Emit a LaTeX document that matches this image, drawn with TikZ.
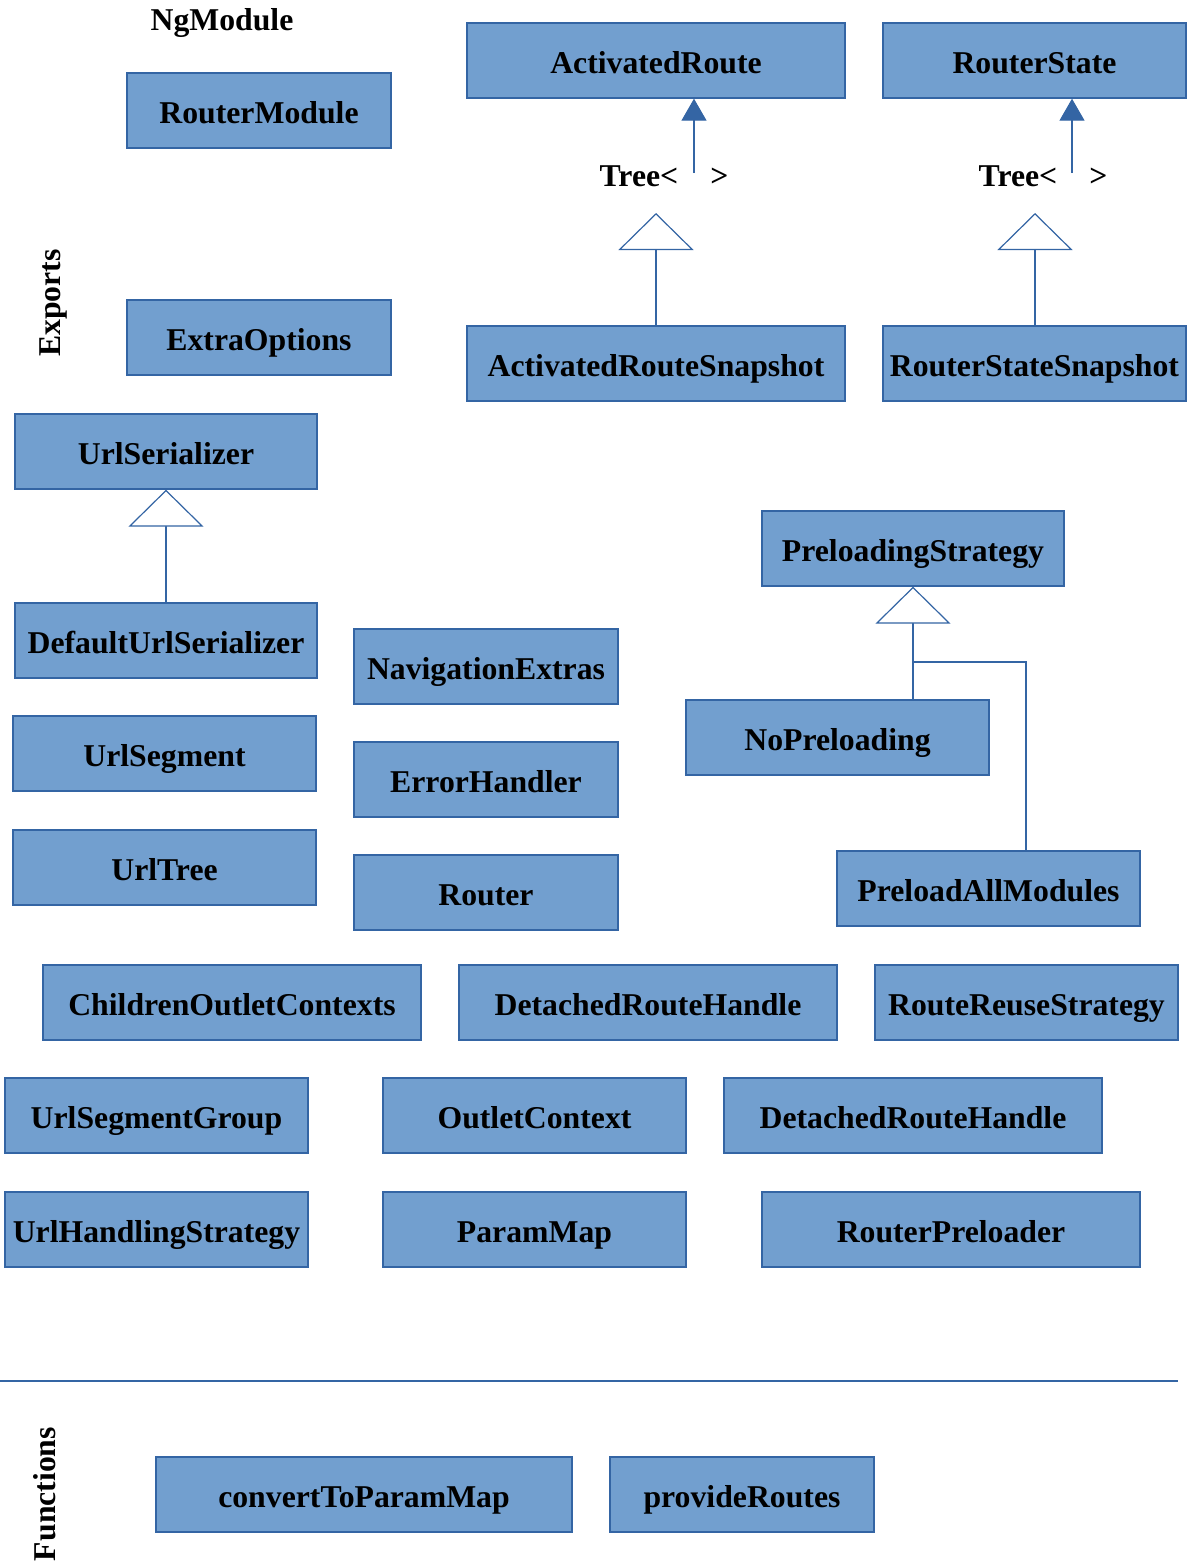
\documentclass[tikz,border=0pt]{standalone}
\usepackage{fontspec}
\setmainfont{Liberation Serif}
\usetikzlibrary{arrows.meta,calc}
\definecolor{boxfill}{HTML}{729FCF}
\definecolor{boxline}{HTML}{3465A4}
\tikzset{
  box/.style={draw=boxline, fill=boxfill, line width=1pt, inner sep=0pt, minimum height=56.25pt,
    text height=22pt, text depth=2.8pt,
    font=\fontsize{23.8}{28}\selectfont\bfseries},
  lbl/.style={inner sep=0pt, font=\fontsize{23.8}{28}\selectfont\bfseries},
  conn/.style={draw=boxline, line width=0.9pt},
  gen/.style={conn, -{Triangle[open, fill=white, length=27.75pt, width=56.25pt]}},
  assoc/.style={conn, -{Triangle[length=16.5pt, width=18.75pt]}, fill=boxline},
}
\newcommand{\bx}[6]{\node[box, minimum width={(#4-#2)*0.75pt}] (#1) at ({(#2+#4)/2},{(#3+#5)/2}) {#6};}
\begin{document}
\begin{tikzpicture}[x=0.75pt, y=-0.75pt]
\useasboundingbox (0,0) rectangle (1192,1564);

\node[lbl] (ngm) at (222,23) {NgModule};
\node[lbl, rotate=90] (exp) at (53,303) {Exports};
\node[lbl, rotate=90] (fun) at (45,1494) {Functions};

\bx{rm}{127}{73}{391}{148}{RouterModule}
\bx{eo}{127}{300}{391}{375}{ExtraOptions}
\bx{ar}{467}{23}{845}{98}{ActivatedRoute}
\bx{rs}{883}{23}{1186}{98}{RouterState}
\bx{ars}{467}{326}{845}{401}{ActivatedRouteSnapshot}
\bx{rss}{883}{326}{1186}{401}{RouterStateSnapshot}

\node[lbl] (tree1) at (664,176) {Tree<\hspace*{24pt}>};
\node[lbl] (tree2) at (1043,176) {Tree<\hspace*{24pt}>};

\bx{us}{15}{414}{317}{489}{UrlSerializer}
\bx{dus}{15}{603}{317}{678}{DefaultUrlSerializer}
\bx{ne}{354}{629}{618}{704}{NavigationExtras}
\bx{useg}{13}{716}{316}{791}{UrlSegment}
\bx{eh}{354}{742}{618}{817}{ErrorHandler}
\bx{ut}{13}{830}{316}{905}{UrlTree}
\bx{rt}{354}{855}{618}{930}{Router}
\bx{ps}{762}{511}{1064}{586}{PreloadingStrategy}
\bx{nop}{686}{700}{989}{775}{NoPreloading}
\bx{pam}{837}{851}{1140}{926}{PreloadAllModules}

\bx{coc}{43}{965}{421}{1040}{ChildrenOutletContexts}
\bx{drh}{459}{965}{837}{1040}{DetachedRouteHandle}
\bx{rrs}{875}{965}{1178}{1040}{RouteReuseStrategy}
\bx{usg}{5}{1078}{308}{1153}{UrlSegmentGroup}
\bx{oc}{383}{1078}{686}{1153}{OutletContext}
\bx{drh2}{724}{1078}{1102}{1153}{DetachedRouteHandle}
\bx{uhs}{5}{1192}{308}{1267}{UrlHandlingStrategy}
\bx{pm}{383}{1192}{686}{1267}{ParamMap}
\bx{rp}{762}{1192}{1140}{1267}{RouterPreloader}

\bx{ctpm}{156}{1457}{572}{1532}{convertToParamMap}
\bx{pr}{610}{1457}{874}{1532}{provideRoutes}

% separator
\coordinate (sepL) at (0,1381);
\coordinate (sepR) at (1178,1381);
\draw[conn] (sepL) -- (sepR);

% Tree connectors
\coordinate (t1) at (694,173);
\coordinate (t2) at (1072,173);
\draw[assoc] (t1) -- (t1 |- ar.south);
\draw[assoc] (t2) -- (t2 |- rs.south);
\coordinate (a1) at (656,213);
\coordinate (a2) at (1035,213);
\draw[gen] (ars.north -| a1) -- (a1);
\draw[gen] (rss.north -| a2) -- (a2);

% UrlSerializer
\draw[gen] (dus.north) -- (us.south);

% Preloading
\draw[gen] (nop.north -| ps.south) -- (ps.south);
\coordinate (br) at (913,662);
\draw[conn] ($(pam.north)+(37.5,0)$) |- (br);
\end{tikzpicture}
\end{document}
